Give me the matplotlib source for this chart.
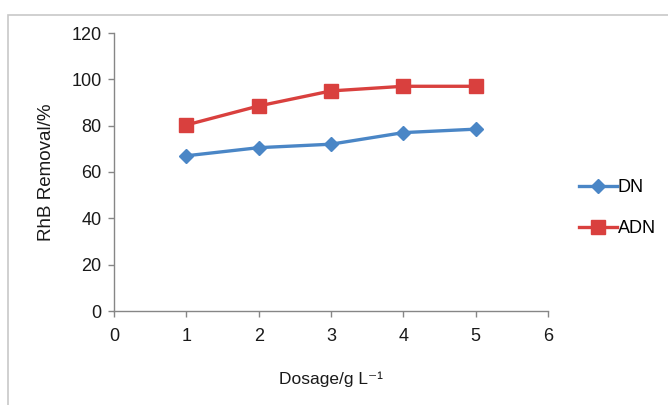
import matplotlib
matplotlib.use("Agg")
import matplotlib.pyplot as plt
from matplotlib.patches import Rectangle

plt.rcParams['font.family'] = ['Liberation Sans', 'DejaVu Sans']

dosage = [1, 2, 3, 4, 5]
dn = [67, 70.5, 72, 77, 78.5]
adn = [80.3, 88.5, 95, 97, 97]
xticks = [0, 1, 2, 3, 4, 5, 6]
yticks = [0, 20, 40, 60, 80, 100, 120]

fig = plt.figure(figsize=(6.68, 4.05), dpi=100)
fig.patch.set_facecolor('white')
fig.patches.append(Rectangle((8/668, -0.01), 1.1, (405-15)/405 + 0.01, transform=fig.transFigure,
                             fill=False, edgecolor='#c8c8c8', linewidth=1.2))

ax = fig.add_axes([114/668, (405-311)/405, (548-114)/668, (311-33)/405])
gray = '#868686'
ax.plot(dosage, dn, color='#4a86c6', lw=2.4, marker='D', ms=7.5, label='DN', zorder=3)
ax.plot(dosage, adn, color='#d9403e', lw=2.4, marker='s', ms=9.5, label='ADN', zorder=3)

ax.set_xlim(0, 6)
ax.set_ylim(0, 120)
ax.set_xticks(xticks)
ax.set_yticks(yticks)
for s in ['top', 'right']:
    ax.spines[s].set_visible(False)
for s in ['left', 'bottom']:
    ax.spines[s].set_color(gray)
    ax.spines[s].set_linewidth(1.0)
ax.tick_params(axis='both', colors=gray, labelcolor='#1a1a1a', labelsize=13, length=4, width=1)
ax.tick_params(axis='x', pad=8)
ax.tick_params(axis='y', pad=5)
ax.set_xlabel('Dosage/g L\u207b\u00b9', fontsize=12.5, color='#1a1a1a', labelpad=19)
ax.set_ylabel('RhB Removal/%', fontsize=13.5, color='#1a1a1a', labelpad=12)

ax.legend(loc='center left', bbox_to_anchor=(1.05, 0.37), frameon=False, fontsize=13,
          handlelength=2.1, handletextpad=0.05, labelspacing=1.3, borderpad=0)

fig.savefig('out.png', dpi=100)
